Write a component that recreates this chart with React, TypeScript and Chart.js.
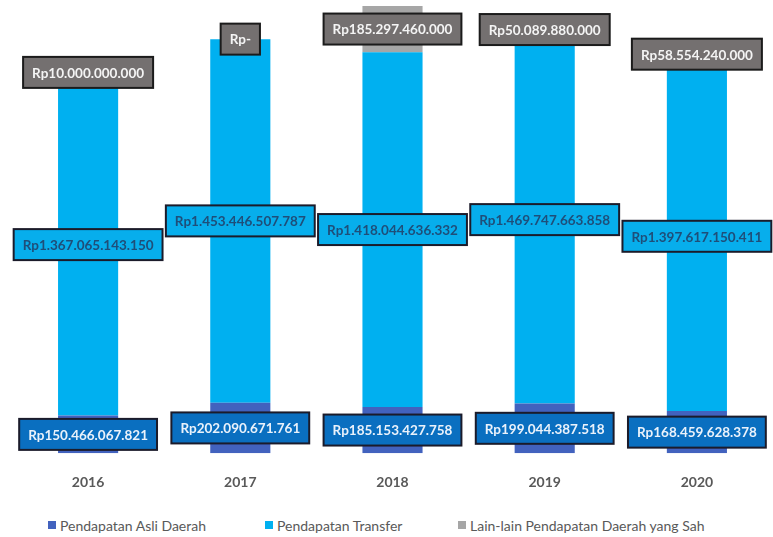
import React, { useEffect, useRef } from 'react';
import { Chart, registerables } from 'chart.js';

Chart.register(...registerables);

const categories = ['2016', '2017', '2018', '2019', '2020'];
const seriesNames = ['Pendapatan Asli Daerah', 'Pendapatan Transfer', 'Lain-lain Pendapatan Daerah yang Sah'];
const pendapatanAsliDaerah = [150466067821, 202090671761, 185153427758, 199044387518, 168459628378];
const pendapatanTransfer = [1367065143150, 1453446507787, 1418044636332, 1469747663858, 1397617150411];
const lainLain = [10000000000, 0, 185297460000, 50089880000, 58554240000];
const yMax = 1800000000000;

const barColors = ['#4262BE', '#00B0F0', '#A6A6A6'];
const labelStyles = [
  { bg: '#0A6FC0', color: '#EAF2FB', border: '#1B1B2A' },
  { bg: '#07AEEC', color: '#1F4E79', border: '#1B1B2A' },
  { bg: '#747070', color: '#F4F4F4', border: '#1B1B1B' },
];

function formatRp(v: number): string {
  if (!v) return 'Rp-';
  return 'Rp' + Math.round(v).toString().replace(/\B(?=(\d{3})+(?!\d))/g, '.');
}

const boxLabelPlugin = {
  id: 'boxLabels',
  afterDatasetsDraw(chart: any) {
    const ctx = chart.ctx;
    ctx.save();
    ctx.font = 'bold 13.5px Lato';
    ctx.textAlign = 'center';
    ctx.textBaseline = 'middle';
    chart.data.datasets.forEach((ds: any, di: number) => {
      const meta = chart.getDatasetMeta(di);
      const st = labelStyles[di];
      meta.data.forEach((el: any, i: number) => {
        const v = ds.data[i] as number;
        const text = formatRp(v);
        const p = el.getProps(['x', 'y', 'base'], true);
        const cy = (p.y + p.base) / 2;
        const tw = ctx.measureText(text).width;
        const w = tw + 18;
        const h = 31;
        ctx.fillStyle = st.bg;
        ctx.fillRect(p.x - w / 2, cy - h / 2, w, h);
        ctx.lineWidth = 2;
        ctx.strokeStyle = st.border;
        ctx.strokeRect(p.x - w / 2, cy - h / 2, w, h);
        ctx.fillStyle = st.color;
        ctx.fillText(text, p.x, cy + 1);
      });
    });
    ctx.restore();
  },
};

const legendPositions = [48, 265, 458];

export default function App() {
  const canvasRef = useRef<HTMLCanvasElement | null>(null);

  useEffect(() => {
    if (!canvasRef.current) return;
    const chart = new Chart(canvasRef.current, {
      type: 'bar',
      data: {
        labels: categories,
        datasets: [
          { label: seriesNames[0], data: pendapatanAsliDaerah, backgroundColor: barColors[0] },
          { label: seriesNames[1], data: pendapatanTransfer, backgroundColor: barColors[1] },
          { label: seriesNames[2], data: lainLain, backgroundColor: barColors[2] },
        ],
      },
      options: {
        animation: false,
        responsive: true,
        maintainAspectRatio: false,
        layout: { padding: { top: 3, left: 12, right: 0, bottom: 0 } },
        datasets: { bar: { barPercentage: 0.395, categoryPercentage: 1 } },
        scales: {
          x: {
            stacked: true,
            grid: { display: false, drawTicks: false },
            border: { display: false },
            ticks: {
              padding: 21,
              color: '#595959',
              font: { family: 'Lato', size: 14, weight: 'bold' },
            },
          },
          y: {
            stacked: true,
            display: false,
            min: 0,
            max: yMax,
          },
        },
        plugins: {
          legend: { display: false },
          tooltip: { enabled: false },
        },
      },
      plugins: [boxLabelPlugin],
    });
    return () => chart.destroy();
  }, []);

  return (
    <div style={{ position: 'fixed', left: 0, top: 0, width: 773, height: 537, background: '#ffffff', overflow: 'hidden' }}>
      <div style={{ position: 'absolute', left: 0, top: 0, width: 773, height: 512 }}>
        <canvas ref={canvasRef} />
      </div>
      {seriesNames.map((name, i) => (
        <div
          key={name}
          style={{
            position: 'absolute',
            left: legendPositions[i],
            top: 516,
            height: 18,
            display: 'flex',
            alignItems: 'center',
            fontFamily: 'Lato',
            fontSize: 14,
            color: '#595959',
            whiteSpace: 'nowrap',
          }}
        >
          <span style={{ display: 'inline-block', width: 8, height: 8, background: barColors[i], marginRight: 4 }} />
          <span>{name}</span>
        </div>
      ))}
    </div>
  );
}
